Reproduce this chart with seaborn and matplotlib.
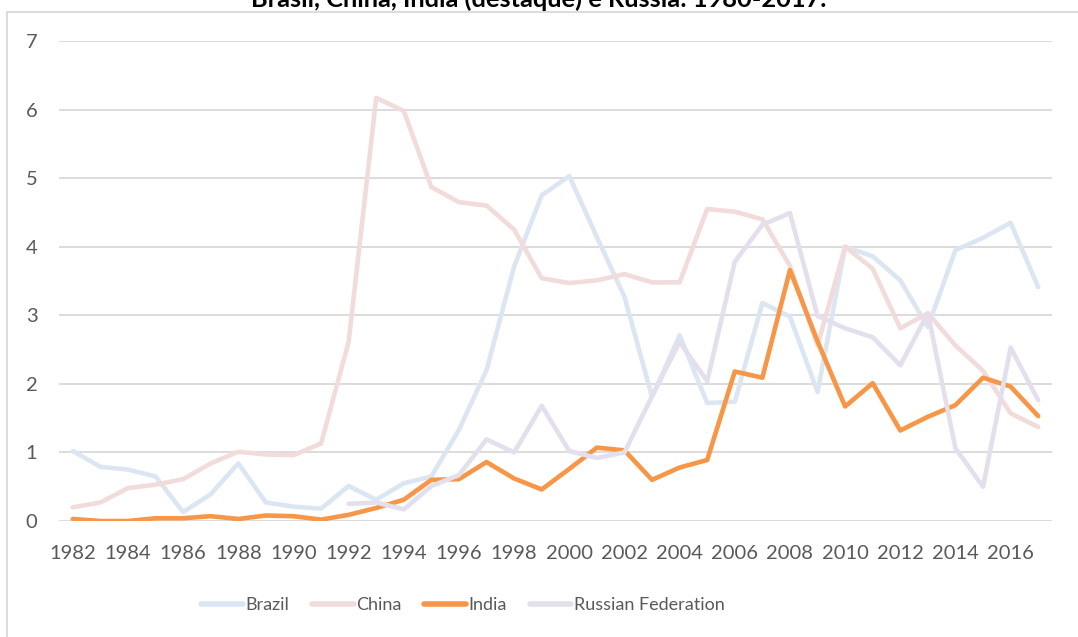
import pandas as pd
import numpy as np
import matplotlib.pyplot as plt
import seaborn as sns
from matplotlib.patches import Rectangle


# values (1982-2017)
years = list(range(1982, 2018))

brazil = [1.02, 0.79, 0.75, 0.65, 0.13, 0.39, 0.84, 0.27, 0.21, 0.18,
          0.51, 0.31, 0.55, 0.65, 1.33, 2.20, 3.71, 4.75, 5.03, 4.14,
          3.27, 1.81, 2.71, 1.72, 1.74, 3.18, 2.98, 1.88, 4.00, 3.86,
          3.51, 2.83, 3.95, 4.13, 4.35, 3.41]

china = [0.20, 0.27, 0.48, 0.53, 0.61, 0.84, 1.01, 0.97, 0.96, 1.13,
         2.61, 6.17, 5.98, 4.87, 4.65, 4.60, 4.25, 3.54, 3.47, 3.51,
         3.60, 3.48, 3.48, 4.55, 4.51, 4.40, 3.72, 2.56, 4.00, 3.68,
         2.81, 3.03, 2.56, 2.19, 1.57, 1.37]

india = [0.03, 0.00, 0.00, 0.04, 0.04, 0.07, 0.03, 0.08, 0.07, 0.02,
         0.09, 0.19, 0.31, 0.60, 0.61, 0.86, 0.62, 0.46, 0.76, 1.07,
         1.03, 0.60, 0.78, 0.89, 2.18, 2.09, 3.66, 2.62, 1.67, 2.01,
         1.32, 1.52, 1.69, 2.09, 1.96, 1.53]

russia = [np.nan] * 10 + [
          0.25, 0.27, 0.17, 0.51, 0.67, 1.19, 1.00, 1.68, 1.02, 0.92,
          1.00, 1.82, 2.61, 2.04, 3.78, 4.32, 4.49, 2.99, 2.81, 2.68,
          2.27, 3.03, 1.06, 0.50, 2.53, 1.76]

series_names = ['Brazil', 'China', 'India', 'Russian Federation']
colors = ['#dce6f2', '#f2dcdb', '#f79646', '#e4dfec']
title = 'Brasil, China, Índia (destaque) e Rússia: 1980-2017.'

df = pd.DataFrame({'Year': years, 'Brazil': brazil, 'China': china,
                   'India': india, 'Russian Federation': russia})
df_long = df.melt(id_vars='Year', var_name='Country', value_name='Value').dropna()

sns.set_style('white')
plt.rcParams['font.family'] = ['Lato', 'DejaVu Sans']

W, H = 1078, 637
fig = plt.figure(figsize=(W / 100, H / 100), dpi=100)
ax = fig.add_axes([59 / W, 1 - 521 / H, (1052 - 59) / W, (521 - 41) / H])

sns.lineplot(data=df_long, x='Year', y='Value', hue='Country',
             hue_order=series_names, palette=colors, linewidth=3.3,
             ax=ax, legend=False, sort=True,
             solid_capstyle='round', solid_joinstyle='round')

ax.set_xlim(1981.5, 2017.5)
ax.set_ylim(0, 7)
ax.set_xticks(range(1982, 2017, 2))
ax.set_yticks(range(0, 8))
ax.set_xlabel('')
ax.set_ylabel('')
ax.grid(axis='y', color='#d9d9d9', linewidth=1.3)
ax.set_axisbelow(True)
for s in ['top', 'right', 'left', 'bottom']:
    ax.spines[s].set_visible(False)
ax.tick_params(axis='both', length=0, labelsize=14.5, labelcolor='#595959')
ax.tick_params(axis='x', pad=17)
ax.tick_params(axis='y', pad=15.5)

# legend built from the series
handles = [plt.Line2D([], [], color=c, linewidth=4, solid_capstyle='round')
           for c in colors]
fig.legend(handles, series_names, loc='center', ncol=4, frameon=False,
           bbox_to_anchor=(463 / W, 1 - 605 / H), fontsize=13,
           labelcolor='#595959', handlelength=2.3, handletextpad=0.15,
           columnspacing=1.25)

# chart frame and the clipped title at the top
fig.patches.append(Rectangle((7 / W, -0.05), 1.1, 1 - 12 / H + 0.05,
                             transform=fig.transFigure, fill=False,
                             edgecolor='#d9d9d9', linewidth=1.3))
fig.text(0.5, 1 - 7 / H, title, ha='center', va='baseline',
         fontsize=18.3, fontweight='bold', color='black')

fig.savefig('out.png', dpi=100)
